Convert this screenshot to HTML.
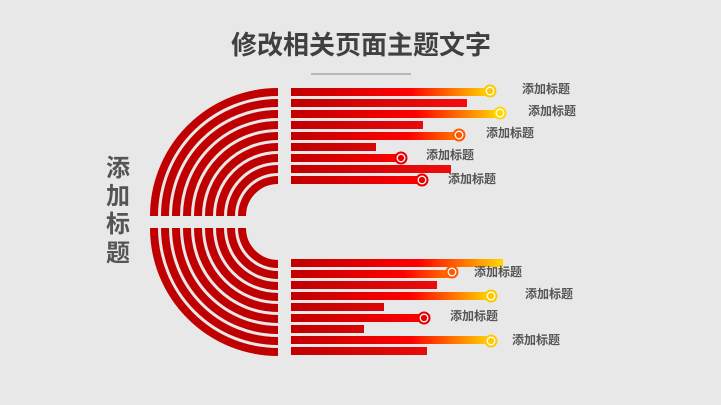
<!DOCTYPE html>
<html><head><meta charset="utf-8"><style>
html,body{margin:0;padding:0;background:#e8e8e8;}
svg{display:block}
text{font-family:"Liberation Sans","Noto Sans CJK SC",sans-serif;font-weight:bold;}
</style></head><body>
<svg width="721" height="405" viewBox="0 0 721 405" xmlns="http://www.w3.org/2000/svg">
<defs>
<linearGradient id="gr" x1="291" x2="503" gradientUnits="userSpaceOnUse">
<stop offset="0" stop-color="#c00000"/><stop offset="1" stop-color="#ff1010"/></linearGradient>
<linearGradient id="gy" x1="0" x2="1"><stop offset="0" stop-color="#c00000"/><stop offset="0.6" stop-color="#ff0000"/><stop offset="1" stop-color="#ffd800"/></linearGradient>
<linearGradient id="go" x1="0" x2="1"><stop offset="0" stop-color="#c00000"/><stop offset="0.7" stop-color="#ff0000"/><stop offset="1" stop-color="#ff7a00"/></linearGradient>
<linearGradient id="gre" x1="0" x2="1"><stop offset="0" stop-color="#c00000"/><stop offset="1" stop-color="#ff0000"/></linearGradient>
</defs>
<text x="361" y="54" font-size="26" fill="#404040" text-anchor="middle">修改相关页面主题文字</text>
<line x1="311" y1="74" x2="411" y2="74" stroke="#888" stroke-width="1"/>
<g font-size="24" fill="#555" text-anchor="middle">
<text x="118" y="176">添</text><text x="118" y="204">加</text><text x="118" y="232">标</text><text x="118" y="261">题</text>
</g>
<g fill="none" stroke="#c00000" stroke-width="8">
<path d="M278 92 A124 124 0 0 0 154 216"/>
<path d="M278 103 A113 113 0 0 0 165 216"/>
<path d="M278 114 A102 102 0 0 0 176 216"/>
<path d="M278 125 A91 91 0 0 0 187 216"/>
<path d="M278 136 A80 80 0 0 0 198 216"/>
<path d="M278 147 A69 69 0 0 0 209 216"/>
<path d="M278 158 A58 58 0 0 0 220 216"/>
<path d="M278 169 A47 47 0 0 0 231 216"/>
<path d="M278 180 A36 36 0 0 0 242 216"/>
<path d="M154 228 A124 124 0 0 0 278 352"/>
<path d="M165 228 A113 113 0 0 0 278 341"/>
<path d="M176 228 A102 102 0 0 0 278 330"/>
<path d="M187 228 A91 91 0 0 0 278 319"/>
<path d="M198 228 A80 80 0 0 0 278 308"/>
<path d="M209 228 A69 69 0 0 0 278 297"/>
<path d="M220 228 A58 58 0 0 0 278 286"/>
<path d="M231 228 A47 47 0 0 0 278 275"/>
<path d="M242 228 A36 36 0 0 0 278 264"/>
</g>
<!-- top bars -->
<rect x="291" y="88" width="199" height="8" fill="url(#gy)"/>
<rect x="291" y="99" width="176" height="8" fill="url(#gr)"/>
<rect x="291" y="110" width="209" height="8" fill="url(#gy)"/>
<rect x="291" y="121" width="132" height="8" fill="url(#gr)"/>
<rect x="291" y="132" width="168" height="8" fill="url(#go)"/>
<rect x="291" y="143" width="85" height="8" fill="url(#gr)"/>
<rect x="291" y="154" width="110" height="8" fill="url(#gre)"/>
<rect x="291" y="165" width="160" height="8" fill="url(#gr)"/>
<rect x="291" y="176" width="131" height="8" fill="url(#gre)"/>
<!-- bottom bars -->
<rect x="291" y="259" width="212" height="8" fill="url(#gy)"/>
<rect x="291" y="270" width="161" height="8" fill="url(#go)"/>
<rect x="291" y="281" width="146" height="8" fill="url(#gr)"/>
<rect x="291" y="292" width="200" height="8" fill="url(#gy)"/>
<rect x="291" y="303" width="93" height="8" fill="url(#gr)"/>
<rect x="291" y="314" width="133" height="8" fill="url(#gre)"/>
<rect x="291" y="325" width="73" height="8" fill="url(#gr)"/>
<rect x="291" y="336" width="200" height="8" fill="url(#gy)"/>
<rect x="291" y="347" width="136" height="8" fill="url(#gr)"/>
<!-- circles -->
<g stroke="#fff" stroke-width="1.3">
<circle cx="490" cy="91" r="6.5" fill="#ffc800" stroke="none"/><circle cx="490" cy="91" r="3.8" fill="none"/>
<circle cx="500" cy="113" r="6.5" fill="#ffd800" stroke="none"/><circle cx="500" cy="113" r="3.8" fill="none"/>
<circle cx="459" cy="135" r="6.5" fill="#ff5a00" stroke="none"/><circle cx="459" cy="135" r="3.8" fill="none"/>
<circle cx="401" cy="158" r="6.5" fill="#e80000" stroke="none"/><circle cx="401" cy="158" r="3.8" fill="none"/>
<circle cx="422" cy="180" r="6.5" fill="#e80000" stroke="none"/><circle cx="422" cy="180" r="3.8" fill="none"/>
<circle cx="452" cy="272" r="6.5" fill="#ff5a00" stroke="none"/><circle cx="452" cy="272" r="3.8" fill="none"/>
<circle cx="491" cy="296" r="6.5" fill="#ffc800" stroke="none"/><circle cx="491" cy="296" r="3.8" fill="none"/>
<circle cx="424" cy="318" r="6.5" fill="#e80000" stroke="none"/><circle cx="424" cy="318" r="3.8" fill="none"/>
<circle cx="491" cy="341" r="6.5" fill="#ffc800" stroke="none"/><circle cx="491" cy="341" r="3.8" fill="none"/>
</g>
<g font-size="12" fill="#555">
<text x="522" y="93">添加标题</text>
<text x="528" y="115">添加标题</text>
<text x="486" y="137">添加标题</text>
<text x="426" y="159">添加标题</text>
<text x="448" y="183">添加标题</text>
<text x="474" y="276">添加标题</text>
<text x="525" y="298">添加标题</text>
<text x="450" y="320">添加标题</text>
<text x="512" y="344">添加标题</text>
</g>
</svg>
</body></html>
